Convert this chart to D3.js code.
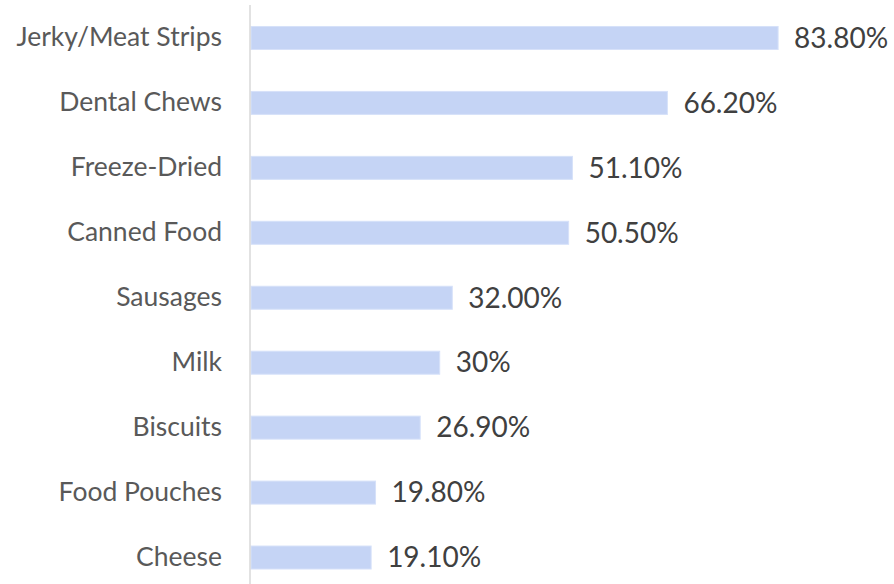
<!DOCTYPE html>
<html>
<head>
<meta charset="utf-8">
<script src="https://cdn.jsdelivr.net/npm/d3@7"></script>
<style>
  html, body { margin: 0; padding: 0; background: #ffffff; }
  svg { display: block; }
</style>
</head>
<body>
<svg id="chart" width="894" height="584"></svg>
<script>
// Pet treat categories and their shares (percent)
const categories = ["Jerky/Meat Strips", "Dental Chews", "Freeze-Dried", "Canned Food",
                    "Sausages", "Milk", "Biscuits", "Food Pouches", "Cheese"];
const shares = [83.8, 66.2, 51.1, 50.5, 32.0, 30, 26.9, 19.8, 19.1];
const shareLabels = ["83.80%", "66.20%", "51.10%", "50.50%", "32.00%", "30%", "26.90%", "19.80%", "19.10%"];

const rows = categories.map((c, i) => ({ category: c, value: shares[i], label: shareLabels[i] }));

const svg = d3.select("#chart");
const W = 894, H = 584;
const axisX = 251;

const x = d3.scaleLinear().domain([0, 100]).range([axisX, axisX + 629]);
const y = d3.scaleBand()
  .domain(categories)
  .range([5.5, 590])
  .paddingInner(0.646)
  .paddingOuter(0.323);

const font = "Lato, 'Open Sans', sans-serif";

// bars
svg.append("g")
  .selectAll("rect")
  .data(rows)
  .join("rect")
  .attr("x", x(0))
  .attr("y", d => y(d.category))
  .attr("width", d => x(d.value) - x(0))
  .attr("height", y.bandwidth())
  .attr("fill", "#c5d4f5")
  .attr("stroke", "#d6e1f9")
  .attr("stroke-width", 1);

// category axis on the left (labels only, no ticks)
const yAxis = d3.axisLeft(y).tickSize(0).tickPadding(28);
const gy = svg.append("g")
  .attr("transform", `translate(${axisX - 1},0)`)
  .call(yAxis);
gy.select(".domain").remove();
gy.selectAll("text")
  .attr("font-family", font)
  .attr("font-size", 26.5)
  .attr("fill", "#595959");

svg.append("line")
  .attr("x1", axisX - 1).attr("x2", axisX - 1)
  .attr("y1", 5).attr("y2", H)
  .attr("stroke", "#d9d9d9")
  .attr("stroke-width", 1.5);

// value labels
svg.append("g")
  .selectAll("text")
  .data(rows)
  .join("text")
  .attr("x", d => x(d.value) + 16)
  .attr("y", d => y(d.category) + y.bandwidth() / 2)
  .attr("dy", "0.35em")
  .attr("font-family", font)
  .attr("font-size", 28)
  .attr("fill", "#404040")
  .text(d => d.label);
</script>
</body>
</html>
